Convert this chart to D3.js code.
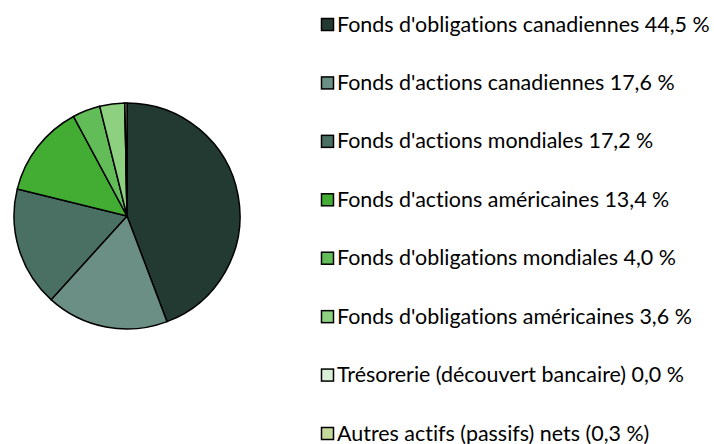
<!DOCTYPE html>
<html>
<head>
<meta charset="utf-8">
<script src="https://cdn.jsdelivr.net/npm/d3@7"></script>
<style>
  body { margin: 0; background: #fff; }
  text { font-family: Lato, "Open Sans", sans-serif; fill: #000; font-variant-ligatures: none; }
</style>
</head>
<body>
<svg width="714" height="444"></svg>
<script>
// Categories and their weights (%), in drawing order
const categories = [
  "Fonds d'obligations canadiennes",
  "Fonds d'actions canadiennes",
  "Fonds d'actions mondiales",
  "Fonds d'actions américaines",
  "Fonds d'obligations mondiales",
  "Fonds d'obligations américaines",
  "Trésorerie (découvert bancaire)",
  "Autres actifs (passifs) nets"
];
const values = [44.5, 17.6, 17.2, 13.4, 4.0, 3.6, 0.0, -0.3];
const labels = ["44,5 %", "17,6 %", "17,2 %", "13,4 %", "4,0 %", "3,6 %", "0,0 %", "(0,3 %)"];
const colors = ["#233a33", "#6b8f84", "#4a7064", "#43ac33", "#62bc58", "#8dd080", "#d9f0d6", "#c5d99a"];

const data = categories.map((c, i) => ({ name: c, value: values[i], label: labels[i], color: colors[i] }));

const svg = d3.select('svg');

// Pie
const cx = 127, cy = 216, r = 113;
const pie = d3.pie()
    .value(d => Math.abs(d.value))
    .sort(null);
const arc = d3.arc().innerRadius(0).outerRadius(r);

const pieGroup = svg.append('g')
    .attr('transform', `translate(${cx}, ${cy})`);

pieGroup.selectAll('path')
    .data(pie(data))
    .enter()
    .append('path')
    .attr('d', arc)
    .attr('fill', d => d.data.color)
    .attr('stroke', '#000')
    .attr('stroke-width', 1.5)
    .attr('stroke-linejoin', 'round');

// Legend
const legendY = d3.scalePoint()
    .domain(categories)
    .range([24.5, 433.5]);

const legend = svg.append('g');
const rows = legend.selectAll('.row')
    .data(data)
    .enter()
    .append('g')
    .attr('class', 'row')
    .attr('transform', d => `translate(0, ${legendY(d.name)})`);

rows.append('rect')
    .attr('x', 321.5)
    .attr('y', -6)
    .attr('width', 12)
    .attr('height', 12)
    .attr('fill', d => d.color)
    .attr('stroke', '#000')
    .attr('stroke-width', 1.5);

const texts = rows.append('text')
    .attr('x', 337)
    .attr('y', 7)
    .style('font-size', '20px')
    .text(d => `${d.name} ${d.label}`);

// fit font width to the reference (first label spans ~373px)
const w = texts.node().getComputedTextLength();
const fs = 20 * 373 / w;
texts.style('font-size', fs + 'px');
</script>
</body>
</html>
